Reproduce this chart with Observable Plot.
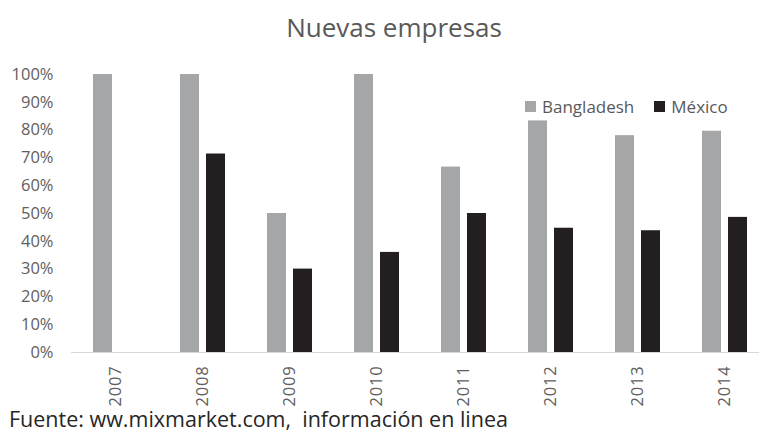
<!DOCTYPE html>
<html><head><meta charset="utf-8">
<script src="https://cdn.jsdelivr.net/npm/d3@7"></script>
<script src="https://cdn.jsdelivr.net/npm/@observablehq/plot@0.6"></script>
<style>
body{margin:0;background:#fff;font-family:"Open Sans",sans-serif;}
#wrap{position:relative;width:759px;height:435px;overflow:hidden;}
#title{position:absolute;left:0;width:788px;top:9px;text-align:center;font-size:26px;color:#595959;}
#chart{position:absolute;left:0;top:58px;}
#legend{position:absolute;top:95px;left:525px;font-size:17px;color:#595959;display:flex;align-items:center;white-space:nowrap;}
.sw{display:inline-block;width:11px;height:11px;margin-right:6px;}
#caption{position:absolute;left:9px;top:404px;font-size:21.5px;color:#262626;white-space:nowrap;}
</style></head>
<body><div id="wrap">
<div id="title">Nuevas empresas</div>
<div id="chart"></div>
<div id="legend"></div>
<div id="caption">Fuente: ww.mixmarket.com,&nbsp; información en linea</div>
</div>
<script>
const years = ["2007","2008","2009","2010","2011","2012","2013","2014"];
const series = ["Bangladesh","México"];
const bangladesh = [1.00, 1.00, 0.50, 1.00, 0.667, 0.833, 0.78, 0.796];
const mexico = [null, 0.714, 0.30, 0.36, 0.50, 0.447, 0.438, 0.486];
const colors = ["#a5a6a8", "#231f20"];
const yTicks = [0,0.1,0.2,0.3,0.4,0.5,0.6,0.7,0.8,0.9,1.0];

const bData = years.map((y,i)=>({year:y, series:series[0], value:bangladesh[i]}));
const mData = years.map((y,i)=>({year:y, series:series[1], value:mexico[i]})).filter(d=>d.value!=null);

const plot = Plot.plot({
  width: 759, height: 350,
  marginTop: 16, marginBottom: 56, marginLeft: 71, marginRight: 0,
  style: {fontFamily: "Open Sans, sans-serif", background: "#fff"},
  x: {domain: years, range: [71, 769], padding: 0, label: null},
  y: {domain: [0, 1], label: null},
  color: {domain: series, range: colors},
  marks: [
    Plot.axisY({ticks: yTicks, tickFormat: d => Math.round(d*100) + "%", tickSize: 0, tickPadding: 18, fontSize: 16.5, fill: "#606060", label: null}),
    Plot.axisX({tickRotate: -90, tickSize: 0, tickPadding: 13, fontSize: 16.5, fill: "#606060", label: null}),
    Plot.barY(bData, {x: "year", y: "value", fill: "series", insetLeft: 21, insetRight: 47}),
    Plot.barY(mData, {x: "year", y: "value", fill: "series", insetLeft: 47, insetRight: 21}),
    Plot.ruleY([0], {stroke: "#d9d9d9"})
  ]
});
document.getElementById("chart").appendChild(plot);
plot.querySelectorAll("g[aria-label='x-axis tick label'] text").forEach(t => t.style.letterSpacing = "0.8px");

const lg = document.getElementById("legend");
series.forEach((s,i)=>{
  const sw = document.createElement("span"); sw.className="sw"; sw.style.background=colors[i];
  const t = document.createElement("span"); t.textContent = s; t.style.marginRight = i===0 ? "20px" : "0";
  lg.appendChild(sw); lg.appendChild(t);
});
</script>
</body></html>
